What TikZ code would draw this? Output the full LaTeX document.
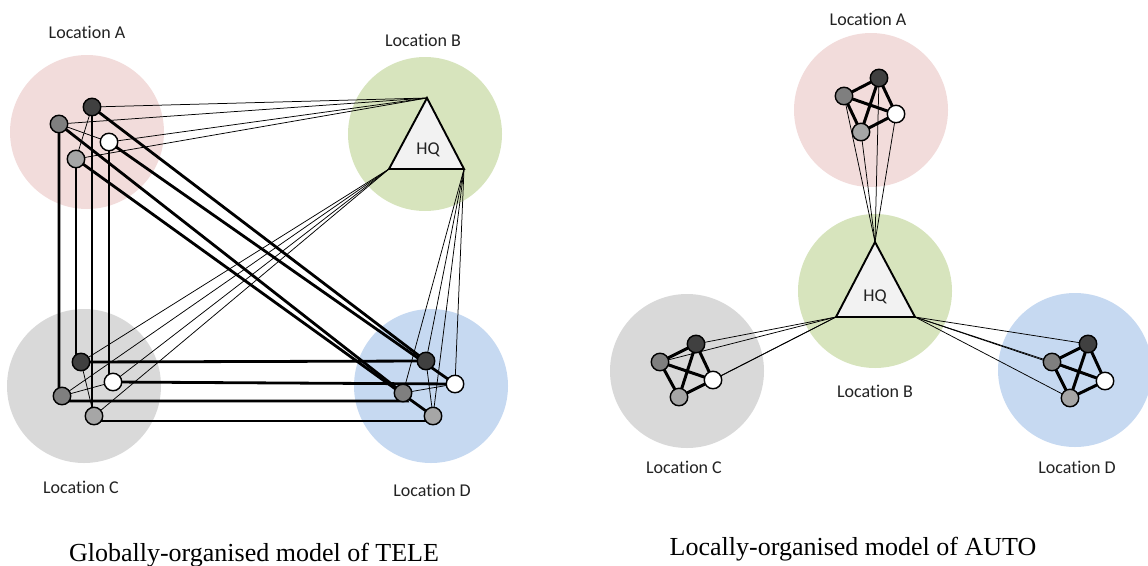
\documentclass[tikz,border=0pt]{standalone}
\usepackage{fontspec}
\setmainfont{Liberation Serif}
\newfontfamily\labfont[Ligatures=NoCommon]{Carlito}
\usetikzlibrary{calc}
\pgfdeclarelayer{zones}
\pgfdeclarelayer{links}
\pgfsetlayers{zones,links,main}
\definecolor{zpink}{HTML}{F2DCDB}
\definecolor{zgreen}{HTML}{D7E4BD}
\definecolor{zgray}{HTML}{D9D9D9}
\definecolor{zblue}{HTML}{C6D9F1}
\definecolor{ndark}{HTML}{404040}
\definecolor{nmid}{HTML}{7F7F7F}
\definecolor{nlight}{HTML}{A6A6A6}
\definecolor{hqfill}{HTML}{F2F2F2}
\definecolor{ink}{HTML}{222222}
\begin{document}
\begin{tikzpicture}[x=1pt,y=-1pt,
  zone/.style={circle,fill=#1,draw=none,inner sep=0pt,minimum size=154pt},
  person/.style={circle,draw=black,line width=1.4pt,inner sep=0pt,minimum size=17.5pt},
  pd/.style={person,fill=ndark},
  pm/.style={person,fill=nmid},
  pl/.style={person,fill=nlight},
  pw/.style={person,fill=white},
  tie/.style={line width=2.8pt,black},
  tieR/.style={line width=3pt,black},
  weak/.style={line width=0.75pt,black},
  hq/.style={draw=black,line width=1.9pt,fill=hqfill,line join=miter},
  lbl/.style={font=\labfont\fontsize{18}{21}\selectfont,text=ink,anchor=base,inner sep=0pt},
  hqtext/.style={font=\labfont\fontsize{18}{21}\selectfont,text=ink,anchor=center,inner sep=0pt},
  captext/.style={font=\fontsize{26}{30}\selectfont,anchor=base,inner sep=0pt}]
\useasboundingbox (0,0) rectangle (1148,565);

% ---------- zones ----------
\begin{pgfonlayer}{zones}
\node[zone=zpink]  (LzA) at (87,132) {};
\node[zone=zgreen] (LzB) at (425,134) {};
\node[zone=zgray]  (LzC) at (84,386) {};
\node[zone=zblue]  (LzD) at (431,386) {};
\node[zone=zpink]  (RzA) at (871,110) {};
\node[zone=zgreen] (RzB) at (875,291) {};
\node[zone=zgray]  (RzC) at (687,371) {};
\node[zone=zblue]  (RzD) at (1075,370) {};
\end{pgfonlayer}

% ---------- left: people ----------
\node[pd] (LAd) at (92,107) {};
\node[pm] (LAm) at (59,124) {};
\node[pw] (LAw) at (109,142) {};
\node[pl] (LAl) at (76,159) {};
\node[pd] (LCd) at (81,362) {};
\node[pw] (LCw) at (113,382) {};
\node[pm] (LCm) at (62,396) {};
\node[pl] (LCl) at (94,416) {};
\node[pd] (LDd) at (426,361) {};
\node[pw] (LDw) at (455,384) {};
\node[pm] (LDm) at (403,393) {};
\node[pl] (LDl) at (433,416) {};

% left HQ
\coordinate (LT) at (427,98);
\coordinate (LL) at (389,169);
\coordinate (LR) at (464,169);
\draw[hq] (LT) -- (LL) -- (LR) -- cycle;
\node[hqtext] (LHQ) at (428,150) {HQ};

% ---------- right: people ----------
\node[pd] (RAd) at (879,78) {};
\node[pm] (RAm) at (844,96) {};
\node[pw] (RAw) at (896,114) {};
\node[pl] (RAl) at (861,132) {};
\node[pd] (RCd) at (696,344) {};
\node[pm] (RCm) at (660,362) {};
\node[pw] (RCw) at (713,380) {};
\node[pl] (RCl) at (679,397) {};
\node[pd] (RDd) at (1088,344) {};
\node[pm] (RDm) at (1052,362) {};
\node[pw] (RDw) at (1105,381) {};
\node[pl] (RDl) at (1070,398) {};

% right HQ
\coordinate (RT) at (875,242);
\coordinate (RL) at (836,317);
\coordinate (RR) at (915,317);
\draw[hq] (RT) -- (RL) -- (RR) -- cycle;
\node[hqtext] (RHQ) at (875,297) {HQ};

% ---------- links ----------
\begin{pgfonlayer}{links}
% left: HQ to everyone
\foreach \n in {LAd,LAm,LAw,LAl} \draw[weak] (LT) -- (\n.center);
\foreach \n in {LCd,LCm,LCw,LCl} \draw[weak] (LL) -- (\n.center);
\foreach \n in {LDd,LDm,LDw,LDl} \draw[weak] (LR) -- (\n.center);
% left: weak local ties
\draw[weak] (LAm.center) -- (LAw.center);
\draw[weak] (LAd.center) -- (LAl.center);
\draw[weak] (LCm.center) -- (LCw.center);
\draw[weak] (LCd.center) -- (LCl.center);
\draw[weak] (LDm.center) -- (LDw.center);
\draw[weak] (LDd.center) -- (LDl.center);
% left: strong global ties
\draw[tie] (LAm.center) |- ($(LDm.center)+(4,8)$) -- (LDm.center);
\draw[tie] (LAl.center) -- (LAl.center |- LCd.center);
\draw[tie] (LAd.center) -- (LAd.center |- LCl.center);
\draw[tie] (LAw.center) -- (LAw.center |- LCw.center);
\draw[tie] (LCd.center) -- (LDd.center);
\draw[tie] (LCw.center) -- (LDw.center);
\draw[tie] ($(LCl.center)+(0,5)$) -- ($(LDl.center)+(0,5)$);
\draw[tie] (LAd.center) -- (LDd.center);
\draw[tie] (LAm.center) -- (LDm.center);
\draw[tie] (LAw.center) -- (LDw.center);
\draw[tie] (LAl.center) -- (LDl.center);

% right: HQ to everyone
\foreach \n in {RAd,RAm,RAw,RAl} \draw[weak] (RT) -- (\n.center);
\foreach \n in {RCd,RCm,RCw,RCl} \draw[weak] (RL) -- (\n.center);
\foreach \n in {RDd,RDm,RDw,RDl} \draw[weak] (RR) -- (\n.center);
% right: strong local ties
\draw[tieR] (RAd.center) -- (RAm.center) (RAd.center) -- (RAw.center) (RAd.center) -- (RAl.center)
            (RAm.center) -- (RAw.center) (RAm.center) -- (RAl.center) (RAw.center) -- (RAl.center);
\draw[tieR] (RCd.center) -- (RCm.center) (RCd.center) -- (RCw.center) (RCd.center) -- (RCl.center)
            (RCm.center) -- (RCw.center) (RCm.center) -- (RCl.center) (RCw.center) -- (RCl.center);
\draw[tieR] (RDd.center) -- (RDm.center) (RDd.center) -- (RDw.center) (RDd.center) -- (RDl.center)
            (RDm.center) -- (RDw.center) (RDm.center) -- (RDl.center) (RDw.center) -- (RDl.center);
\end{pgfonlayer}

% ---------- labels ----------
\node[lbl] (tLA) at (87,38) {Location A};
\node[lbl] (tLB) at (423,46) {Location B};
\node[lbl] (tLC) at (81,493) {Location C};
\node[lbl] (tLD) at (432,496) {Location D};
\node[lbl] (tRA) at (868,25) {Location A};
\node[lbl] (tRB) at (875,397) {Location B};
\node[lbl] (tRC) at (684,473) {Location C};
\node[lbl] (tRD) at (1077,473) {Location D};

\node[captext] (capL) at (254,561) {Globally-organised model of TELE};
\node[captext] (capR) at (853,555) {Locally-organised model of AUTO};
\end{tikzpicture}
\end{document}
